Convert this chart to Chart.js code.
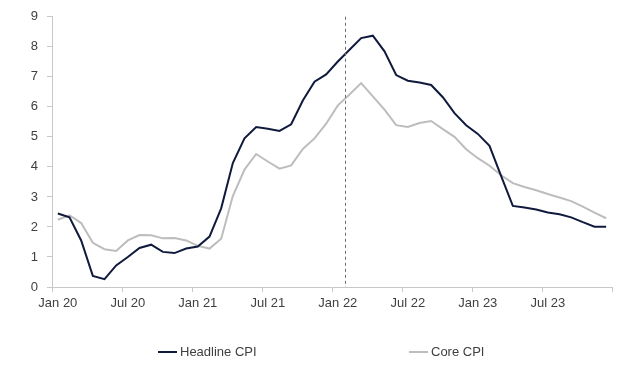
<!DOCTYPE html>
<html>
<head>
<meta charset="utf-8">
<script src="https://cdn.jsdelivr.net/npm/chart.js@4"></script>
<style>
  html, body { margin: 0; padding: 0; background: #fff; }
  #wrap { position: relative; width: 640px; height: 372px; }
  #legend { position: absolute; left: 0; top: 344px; width: 640px; height: 18px; }
  .item { position: absolute; top: 0; display: flex; align-items: center; font: 13px "Liberation Sans", Arial, sans-serif; color: #404040; }
  .swatch { width: 19px; height: 2px; margin-right: 3px; }
</style>
</head>
<body>
<div id="wrap">
  <canvas id="chart" width="640" height="372"></canvas>
  <div id="legend"></div>
</div>
<script>
// months Jan 20 .. Dec 23
const months = [
  'Jan 20','Feb 20','Mar 20','Apr 20','May 20','Jun 20','Jul 20','Aug 20','Sep 20','Oct 20','Nov 20','Dec 20',
  'Jan 21','Feb 21','Mar 21','Apr 21','May 21','Jun 21','Jul 21','Aug 21','Sep 21','Oct 21','Nov 21','Dec 21',
  'Jan 22','Feb 22','Mar 22','Apr 22','May 22','Jun 22','Jul 22','Aug 22','Sep 22','Oct 22','Nov 22','Dec 22',
  'Jan 23','Feb 23','Mar 23','Apr 23','May 23','Jun 23','Jul 23','Aug 23','Sep 23','Oct 23','Nov 23','Dec 23'
];

const headlineCPI = [
  2.45, 2.32, 1.55, 0.37, 0.26, 0.72, 1.00, 1.30, 1.41, 1.17, 1.13, 1.28,
  1.35, 1.68, 2.62, 4.13, 4.95, 5.33, 5.27, 5.20, 5.42, 6.21, 6.84, 7.08,
  7.51, 7.90, 8.29, 8.37, 7.85, 7.06, 6.87, 6.81, 6.73, 6.32, 5.79, 5.39,
  5.10, 4.70, 3.69, 2.70, 2.65, 2.58, 2.48, 2.42, 2.32, 2.16, 2.01, 2.01
];

const coreCPI = [
  2.24, 2.39, 2.13, 1.47, 1.26, 1.20, 1.55, 1.73, 1.72, 1.62, 1.63, 1.55,
  1.37, 1.28, 1.61, 3.03, 3.91, 4.43, 4.18, 3.94, 4.05, 4.60, 4.95, 5.44,
  6.05, 6.41, 6.79, 6.35, 5.91, 5.39, 5.33, 5.46, 5.53, 5.26, 5.00, 4.59,
  4.29, 4.04, 3.72, 3.46, 3.33, 3.22, 3.10, 2.98, 2.86, 2.68, 2.48, 2.29
];

const seriesNames = ['Headline CPI', 'Core CPI'];
const yTicks = [0, 1, 2, 3, 4, 5, 6, 7, 8, 9];
// dashed marker: 24 Feb 2022, as a fractional month index
const markerMonth = 24.65;

const axisColor = '#c8c8c8';
const textColor = '#404040';
const colors = ['#0f1a3c', '#bdbdbd'];
const font = { family: '"Liberation Sans", Arial, sans-serif', size: 13 };

const markerLine = {
  id: 'markerLine',
  afterDatasetsDraw(chart) {
    const { ctx, chartArea, scales } = chart;
    const x = Math.round(scales.x.getPixelForValue(markerMonth)) + 0.5;
    ctx.save();
    ctx.strokeStyle = '#6e6e6e';
    ctx.lineWidth = 1;
    ctx.setLineDash([3, 3]);
    ctx.beginPath();
    ctx.moveTo(x, chartArea.top);
    ctx.lineTo(x, chartArea.bottom);
    ctx.stroke();
    ctx.restore();
  }
};

new Chart(document.getElementById('chart'), {
  type: 'line',
  data: {
    labels: months,
    datasets: [
      { label: seriesNames[0], data: headlineCPI, borderColor: colors[0], borderWidth: 2, pointRadius: 0, tension: 0 },
      { label: seriesNames[1], data: coreCPI, borderColor: colors[1], borderWidth: 2, pointRadius: 0, tension: 0 }
    ]
  },
  options: {
    responsive: false,
    animation: false,
    layout: { padding: { left: 0, top: 13, right: 28, bottom: 60 } },
    plugins: { legend: { display: false }, tooltip: { enabled: false } },
    scales: {
      x: {
        type: 'category',
        offset: true,
        afterFit(s) { s.height = 25; },
        grid: {
          offset: true,
          drawOnChartArea: false,
          tickLength: 5,
          color: c => (c.index === undefined || c.index % 6 === 0) ? axisColor : 'rgba(0,0,0,0)'
        },
        border: { display: true, color: axisColor, width: 1 },
        ticks: {
          autoSkip: false,
          maxRotation: 0,
          padding: 4,
          color: textColor,
          font,
          callback: (v, i) => i % 6 === 0 ? months[i] : ''
        }
      },
      y: {
        min: yTicks[0],
        max: yTicks[yTicks.length - 1],
        afterFit(s) { s.width = 52; },
        afterBuildTicks(s) { s.ticks = yTicks.map(v => ({ value: v })); },
        grid: { drawOnChartArea: false, tickLength: 5, color: axisColor },
        border: { display: true, color: axisColor, width: 1 },
        ticks: { padding: 9, color: textColor, font }
      }
    }
  },
  plugins: [markerLine]
});

// html legend
const legendLeft = [158, 409];
const legend = document.getElementById('legend');
seriesNames.forEach((name, i) => {
  const item = document.createElement('div');
  item.className = 'item';
  item.style.left = legendLeft[i] + 'px';
  item.innerHTML = `<span class="swatch" style="background:${colors[i]}"></span><span>${name}</span>`;
  legend.appendChild(item);
});
</script>
</body>
</html>
